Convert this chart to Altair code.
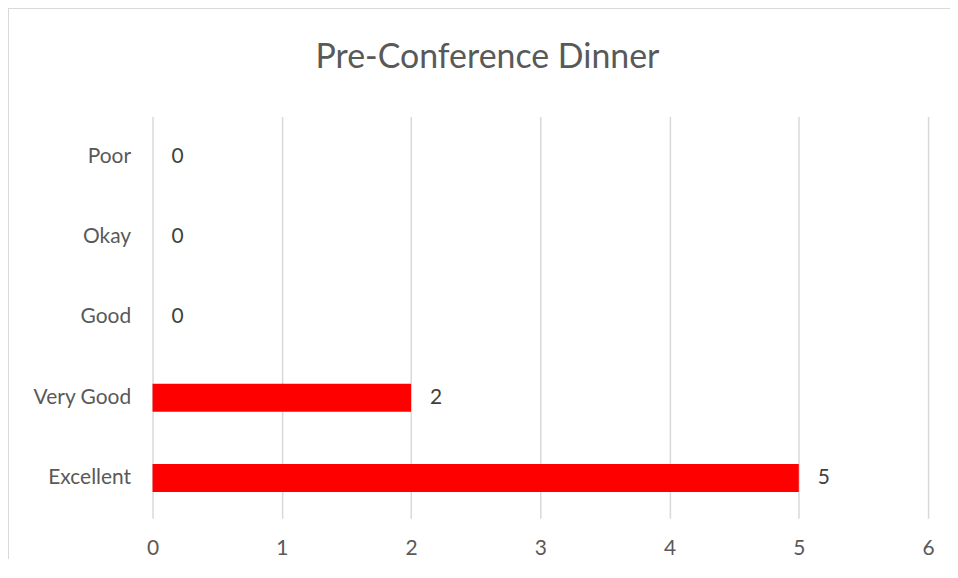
import altair as alt
import pandas as pd

categories = ["Poor", "Okay", "Good", "Very Good", "Excellent"]
counts = [0, 0, 0, 2, 5]
x_ticks = [0, 1, 2, 3, 4, 5, 6]
title_text = "Pre-Conference Dinner"

df = pd.DataFrame({"rating": categories, "count": counts})

FONT = "Lato"
GRID = "#d9d9d9"
FS = 21

base = alt.Chart(df)

y_enc = alt.Y("rating:N", sort=categories, title=None,
              scale=alt.Scale(paddingInner=0.0, paddingOuter=0.0),
              axis=alt.Axis(domain=False, ticks=False, labelPadding=22,
                            labelFont=FONT, labelFontSize=FS, labelColor="#595959"))
x_enc = alt.X("count:Q", title=None,
              scale=alt.Scale(domain=[0, 6], nice=False),
              axis=alt.Axis(values=x_ticks, format="d", domain=False, ticks=False, grid=True,
                            gridColor=GRID, gridWidth=1.5, labelPadding=19, labelFlush=False,
                            labelFont=FONT, labelFontSize=FS, labelColor="#595959"))

bars = base.mark_bar(color="#ff0000", size=28).encode(x=x_enc, y=y_enc)
labels = base.mark_text(align="left", baseline="middle", dx=19,
                        font=FONT, fontSize=FS, color="#404040").encode(
    x="count:Q", y=alt.Y("rating:N", sort=categories), text="count:Q")

title = alt.Chart(pd.DataFrame({"t": [title_text]})).mark_text(
    font=FONT, fontSize=34, color="#595959", align="center", baseline="middle").encode(
    x=alt.value(336), y=alt.value(-59), text="t:N")

border_top = alt.Chart(df).mark_rule(color=GRID, strokeWidth=2).encode(
    x=alt.value(-145), x2=alt.value(820), y=alt.value(-109))
border_left = alt.Chart(df).mark_rule(color=GRID, strokeWidth=2).encode(
    x=alt.value(-145), y=alt.value(-109), y2=alt.value(460))

chart = alt.layer(border_top, border_left, bars, labels, title).properties(
    width=778, height=403,
    autosize=alt.AutoSizeParams(type="none"),
    padding={"left": 145, "top": 108, "right": 22, "bottom": 40},
    background="white",
).configure_view(stroke=None, strokeWidth=0)

chart.save("out.html", embed_options={"renderer": "svg", "actions": False})
